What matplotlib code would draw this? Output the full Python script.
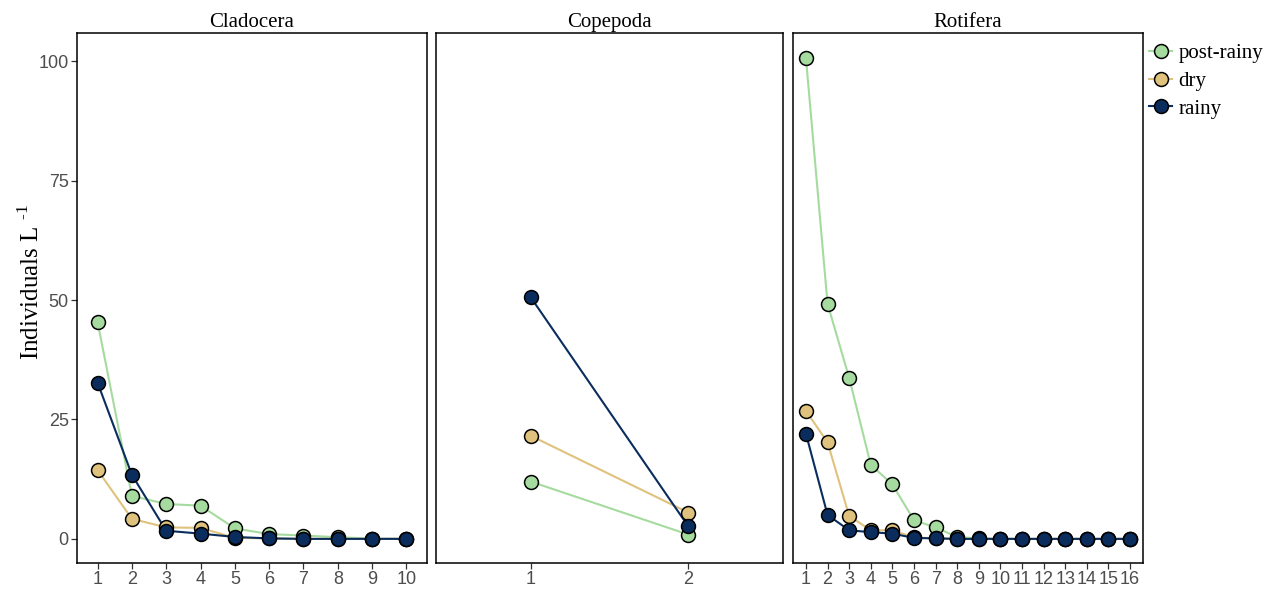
import numpy as np
import matplotlib.pyplot as plt
from matplotlib.lines import Line2D

# data
seasons = ["post-rainy", "dry", "rainy"]
colors = {"post-rainy": "#a6dba0", "dry": "#dfc27d", "rainy": "#0b2d5e"}

panels = ["Cladocera", "Copepoda", "Rotifera"]

clad_post = [45.4, 9.0, 7.3, 6.95, 2.2, 1.0, 0.7, 0.35, 0.05, 0.0]
clad_dry = [14.4, 4.2, 2.4, 2.3, 0.2, 0.1, 0.0, 0.0, 0.0, 0.0]
clad_rainy = [32.7, 13.4, 1.7, 1.1, 0.4, 0.1, 0.0, 0.0, 0.0, 0.0]

cope_post = [12.0, 0.9]
cope_dry = [21.6, 5.5]
cope_rainy = [50.6, 2.6]

roti_post = [100.6, 49.2, 33.7, 15.5, 11.4, 3.9, 2.4, 0.4, 0.1, 0, 0, 0, 0, 0, 0, 0]
roti_dry = [26.8, 20.2, 4.8, 1.8, 1.8, 0.3, 0.1, 0, 0, 0, 0, 0, 0, 0, 0, 0]
roti_rainy = [22.0, 5.0, 1.8, 1.4, 1.1, 0.2, 0.1, 0, 0, 0, 0, 0, 0, 0, 0, 0]

data = {
    "Cladocera": [clad_post, clad_dry, clad_rainy],
    "Copepoda": [cope_post, cope_dry, cope_rainy],
    "Rotifera": [roti_post, roti_dry, roti_rainy],
}

serif = ["Liberation Serif", "DejaVu Serif"]
sans = ["Liberation Sans", "DejaVu Sans"]
plt.rcParams["mathtext.fontset"] = "custom"
plt.rcParams["mathtext.rm"] = "Liberation Serif"

fig = plt.figure(figsize=(12.81, 5.92), dpi=100)
W, H = 1281, 592
boxes = [(77, 350), (436, 347), (793, 350)]
top, bot = 33, 563

axes = []
for i, name in enumerate(panels):
    left, width = boxes[i]
    ax = fig.add_axes([left / W, 1 - bot / H, width / W, (bot - top) / H])
    axes.append(ax)
    series = data[name]
    n = len(series[0])
    x = np.arange(1, n + 1)
    for s, vals in zip(seasons, series):
        ax.plot(x, vals, color=colors[s], lw=1.5, zorder=2)
        ax.plot(x, vals, "o", ms=10, mfc=colors[s], mec="black", mew=1.1, zorder=3)
    ax.set_xlim(0.4, n + 0.6)
    ax.set_ylim(-5.05, 105.9)
    ax.set_xticks(x)
    ax.set_xticklabels([str(v) for v in x], family=sans, fontsize=13, color="#4d4d4d")
    ax.set_yticks([0, 25, 50, 75, 100])
    if i == 0:
        ax.set_yticklabels(["0", "25", "50", "75", "100"], family=sans, fontsize=13, color="#4d4d4d")
        ax.set_ylabel("Individuals L $^{\\text{-1}}$", family=serif, fontsize=18)
        ax.yaxis.set_label_coords(-0.093, 0.53)
    else:
        ax.tick_params(axis="y", left=False, labelleft=False)
    ax.tick_params(direction="out", length=4, width=0.9, color="#333333", pad=2)
    for sp in ax.spines.values():
        sp.set_linewidth(1.1)
        sp.set_color("black")
    ax.set_title(name, family=serif, fontsize=15, pad=4)

handles = [Line2D([0], [0], color=colors[s], lw=1.5, marker="o", ms=10,
                  mfc=colors[s], mec="black", mew=1.1) for s in seasons]
fig.legend(handles, seasons, loc="upper left", bbox_to_anchor=(1141 / W, 1 - 35 / H),
           frameon=False, prop={"family": serif, "size": 15}, handlelength=1.1,
           handletextpad=0.3, labelspacing=0.4, borderaxespad=0)

fig.savefig("out.png", dpi=100)
